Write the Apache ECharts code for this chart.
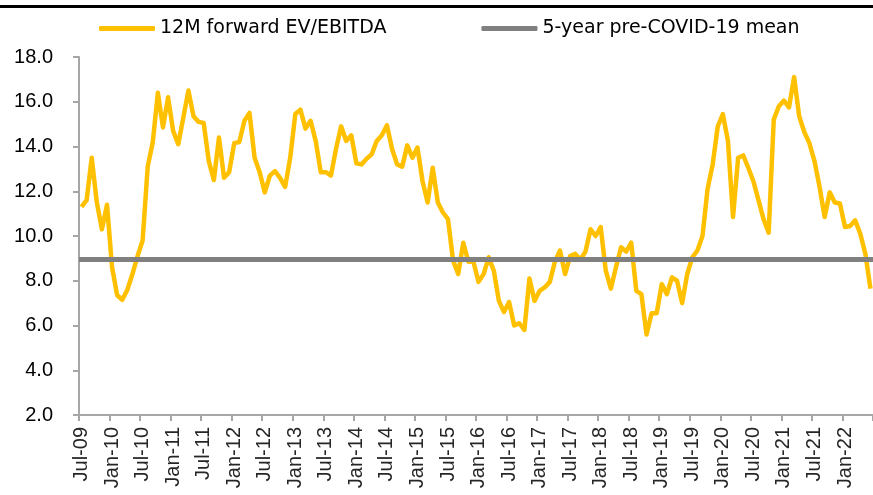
<!DOCTYPE html>
<html>
<head>
<meta charset="utf-8">
<style>
    html, body { margin: 0; padding: 0; background: #fff; }
    #main { width: 873px; height: 495px; }
</style>
<script src="https://cdn.jsdelivr.net/npm/echarts@6/dist/echarts.min.js"></script>
</head>
<body>
<div id="main"></div>
<script>
// 月度数据 Jul-09 ~ Jun-22
var startYear = 2009;
var startMonth = 6; // 0 = Jan
var monthCount = 156;
var monthNames = ['Jan', 'Feb', 'Mar', 'Apr', 'May', 'Jun', 'Jul', 'Aug', 'Sep', 'Oct', 'Nov', 'Dec'];

var evEbitda = [
    11.3, 11.6, 13.5, 11.5, 10.3, 11.4, 8.6, 7.35, 7.15, 7.6, 8.3, 9.1,
    9.8, 13.1, 14.2, 16.4, 14.85, 16.2, 14.7, 14.1, 15.3, 16.5, 15.35, 15.1,
    15.05, 13.35, 12.5, 14.4, 12.6, 12.85, 14.15, 14.2, 15.15, 15.5, 13.5, 12.85,
    11.95, 12.7, 12.9, 12.6, 12.2, 13.5, 15.45, 15.65, 14.8, 15.15, 14.25, 12.85,
    12.85, 12.7, 13.9, 14.9, 14.25, 14.5, 13.25, 13.2, 13.45, 13.65, 14.25, 14.5,
    14.95, 13.9, 13.2, 13.1, 14.05, 13.5, 13.95, 12.45, 11.5, 13.05, 11.5, 11.05,
    10.75, 8.9, 8.3, 9.7, 8.85, 8.85, 7.95, 8.3, 9.05, 8.45, 7.1, 6.6,
    7.05, 6.0, 6.1, 5.8, 8.1, 7.1, 7.55, 7.7, 7.95, 8.85, 9.35, 8.3,
    9.1, 9.2, 8.95, 9.3, 10.3, 10.0, 10.4, 8.45, 7.65, 8.6, 9.5, 9.3,
    9.7, 7.55, 7.4, 5.6, 6.55, 6.55, 7.85, 7.4, 8.15, 8.0, 7.0, 8.3,
    9.05, 9.35, 10.0, 12.1, 13.2, 14.9, 15.45, 14.25, 10.85, 13.5, 13.6, 13.05,
    12.45, 11.6, 10.75, 10.15, 15.2, 15.8, 16.05, 15.75, 17.1, 15.35, 14.65, 14.15,
    13.35, 12.2, 10.85, 11.95, 11.5, 11.45, 10.4, 10.45, 10.7, 10.1, 9.2, 7.65
];

var preCovidMean = 8.95;

var yTicks = [2, 4, 6, 8, 10, 12, 14, 16, 18];

var seriesNames = ['12M forward EV/EBITDA', '5-year pre-COVID-19 mean'];

(function (win) {
    var page = {
        init: function () {
            this.initChart();
        },
        buildMonths: function () {
            var months = [];
            for (var i = 0; i < monthCount; i++) {
                var m = (startMonth + i) % 12;
                var y = startYear + Math.floor((startMonth + i) / 12);
                months.push(monthNames[m] + '-' + String(y % 100).padStart(2, '0'));
            }
            return months;
        },
        initChart: function () {
            var months = this.buildMonths();
            var myChart = echarts.init(document.getElementById('main'));
            var option = {
                backgroundColor: '#fff',
                animation: false,
                //顶部黑线
                graphic: [{
                    type: 'rect',
                    shape: { x: 0, y: 5, width: 873, height: 3 },
                    style: { fill: '#000' }
                }],
                legend: {
                    left: 94,
                    top: 14,
                    itemWidth: 56,
                    itemHeight: 5,
                    itemGap: 95,
                    icon: 'roundRect',
                    textStyle: { fontFamily: 'DejaVu Sans', fontSize: 19, color: '#000' },
                    data: seriesNames
                },
                grid: {
                    left: 79,
                    right: -2,
                    top: 57,
                    bottom: 80,
                    containLabel: false
                },
                xAxis: {
                    type: 'category',
                    data: months,
                    boundaryGap: true,
                    axisLine: { lineStyle: { color: '#a6a6a6', width: 2 } },
                    axisTick: {
                        show: true,
                        length: 6,
                        lineStyle: { color: '#a6a6a6', width: 2 },
                        interval: function (idx) { return idx % 6 === 0; }
                    },
                    axisLabel: {
                        rotate: 90,
                        margin: 12,
                        fontFamily: 'Liberation Sans',
                        fontSize: 20,
                        color: '#262626',
                        interval: function (idx) { return idx % 6 === 0; }
                    },
                    splitLine: { show: false }
                },
                yAxis: {
                    type: 'value',
                    min: yTicks[0],
                    max: yTicks[yTicks.length - 1],
                    interval: 2,
                    axisLine: { show: true, lineStyle: { color: '#a6a6a6', width: 2 } },
                    axisTick: { show: true, length: 6, lineStyle: { color: '#a6a6a6', width: 2 } },
                    axisLabel: {
                        margin: 26,
                        fontFamily: 'Liberation Sans',
                        fontSize: 20,
                        color: '#000',
                        formatter: function (v) { return v.toFixed(1); }
                    },
                    splitLine: { show: false }
                },
                series: [{
                    name: seriesNames[0],
                    type: 'line',
                    data: evEbitda,
                    symbol: 'none',
                    color: '#ffc000',
                    lineStyle: { color: '#ffc000', width: 4.5, join: 'round' },
                    z: 2
                }, {
                    name: seriesNames[1],
                    type: 'line',
                    data: [],
                    symbol: 'none',
                    color: '#808080',
                    lineStyle: { color: '#808080', width: 5 },
                    z: 3,
                    markLine: {
                        silent: true,
                        symbol: ['none', 'none'],
                        label: { show: false },
                        lineStyle: { color: '#808080', width: 5, type: 'solid' },
                        data: [{ yAxis: preCovidMean }]
                    }
                }]
            };
            myChart.setOption(option);
        }
    };
    page.init();
})(window);
</script>
</body>
</html>
